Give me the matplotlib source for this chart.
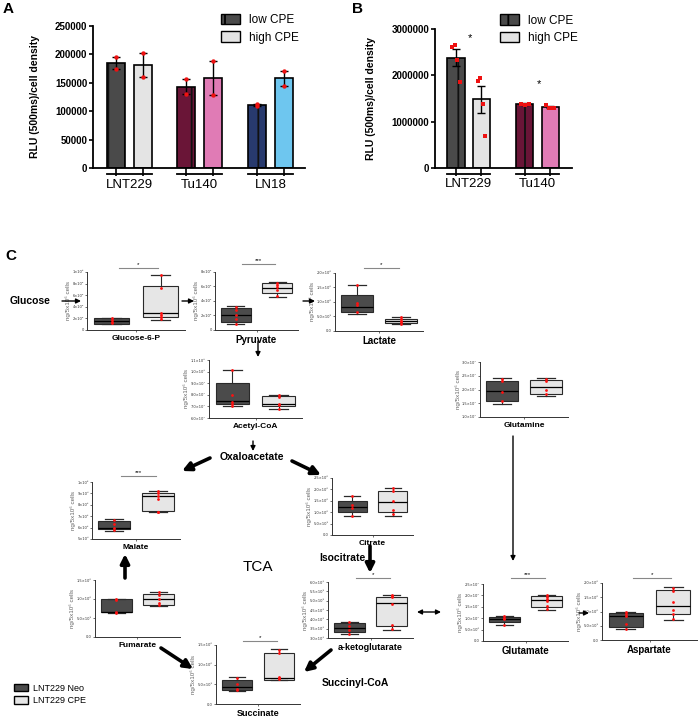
import numpy as np
import matplotlib
matplotlib.use('Agg')
import matplotlib.pyplot as plt
from matplotlib.patches import Patch

plt.rcParams['font.family'] = ['Liberation Sans', 'DejaVu Sans']
plt.rcParams['hatch.linewidth'] = 1.3

W, H = 700, 718

# ---- panel A data ----
a_groups = ['LNT229', 'Tu140', 'LN18']
a_low = [185000, 143000, 111000]
a_high = [181000, 158000, 158000]
a_low_err = [10000, 13500, 1000]
a_high_err = [21000, 30000, 13000]
a_low_pts = [[195000, 175000], [157000, 130000], [110000, 112000]]
a_high_pts = [[202000, 160000], [188000, 128000], [171000, 145000]]
a_low_colors = ['#4a4a4a', '#6a1537', '#283a6e']
a_high_colors = ['#e4e4e4', '#e07bb5', '#6ec6ef']

# ---- panel B data ----
b_groups = ['LNT229', 'Tu140']
b_low = [2380000, 1380000]
b_high = [1480000, 1310000]
b_low_err = [180000, 15000]
b_high_err = [290000, 20000]
b_low_pts = [[2620000, 2660000, 2340000, 1860000], [1380000, 1370000, 1380000]]
b_high_pts = [[1880000, 1950000, 1380000, 680000], [1350000, 1300000, 1290000, 1300000]]
b_low_colors = ['#4a4a4a', '#6a1537']
b_high_colors = ['#e4e4e4', '#e07bb5']
b_sig = ['*', '*']

# ---- panel C data: box stats are [whisker low, q1, median, q3, whisker high] ----
metabolites = ['Glucose-6-P', 'Pyruvate', 'Lactate', 'Acetyl-CoA', 'Glutamine', 'Malate',
               'Citrate', 'a-ketoglutarate', 'Glutamate', 'Aspartate', 'Fumarate', 'Succinate']
neo_boxes = [[1.0, 1.05, 1.6, 2.0, 2.1], [0.8, 1.16, 2.1, 3.0, 3.3], [0.58, 0.66, 0.84, 1.24, 1.59],
             [7.0, 7.18, 7.5, 9.03, 10.1], [1.47, 1.58, 1.95, 2.31, 2.42], [5.73, 5.84, 6.0, 6.57, 6.77],
             [0.84, 1.03, 1.25, 1.51, 1.72], [3.2, 3.3, 3.55, 3.8, 3.85], [0.7, 0.84, 0.95, 1.06, 1.1],
             [0.4, 0.47, 0.85, 0.96, 1.0], [0.64, 0.65, 0.67, 1.0, 1.0], [0.33, 0.36, 0.42, 0.61, 0.69]]
cpe_boxes = [[1.7, 2.2, 3.0, 7.6, 9.5], [4.6, 5.1, 5.8, 6.5, 6.6], [0.23, 0.26, 0.33, 0.43, 0.47],
             [6.76, 7.0, 7.2, 7.9, 8.0], [1.76, 1.84, 2.09, 2.35, 2.42], [7.35, 7.44, 8.75, 9.04, 9.2],
             [0.85, 1.0, 1.45, 1.95, 2.05], [3.45, 3.66, 4.9, 5.2, 5.3], [1.38, 1.5, 1.8, 1.97, 2.03],
             [0.7, 0.9, 1.2, 1.74, 1.85], [0.82, 0.84, 1.0, 1.12, 1.18], [0.6, 0.61, 0.67, 1.3, 1.4]]
neo_points = [[2.0, 1.8, 1.3, 1.2], [3.2, 2.8, 2.0, 1.5, 0.8], [1.59, 0.97, 0.9, 0.66],
              [10.1, 8.0, 7.4, 7.2, 7.0], [2.4, 2.3, 1.9, 1.6], [6.7, 6.3, 6.0, 5.8],
              [1.7, 1.3, 1.2, 0.85], [3.85, 3.65, 3.45, 3.2], [1.1, 1.0, 0.95, 0.7],
              [1.0, 0.92, 0.85, 0.55, 0.4], [1.0, 0.98, 0.67, 0.64], [0.67, 0.52, 0.38, 0.36]]
cpe_points = [[9.4, 7.2, 3.0, 2.6, 2.2, 1.9], [6.5, 6.2, 5.9, 5.5, 4.7], [0.47, 0.4, 0.33, 0.3, 0.24],
              [8.0, 7.8, 7.2, 7.1, 6.8], [2.38, 2.32, 2.0, 1.85], [9.2, 9.0, 8.8, 8.5, 7.4, 7.35],
              [2.05, 1.95, 1.5, 1.1, 0.9], [5.3, 5.25, 5.2, 4.8, 3.7, 3.5], [2.02, 1.95, 1.85, 1.75, 1.55, 1.4],
              [1.82, 1.72, 1.33, 1.05, 0.9, 0.72], [1.18, 1.1, 1.0, 0.9, 0.85], [1.38, 1.3, 0.68, 0.65, 0.63]]
y_ticks = [[0, 2, 4, 6, 8, 10], [0, 2, 4, 6, 8], [0, 0.5, 1.0, 1.5, 2.0], [6, 7, 8, 9, 10, 11],
           [1.0, 1.5, 2.0, 2.5, 3.0], [5, 6, 7, 8, 9, 10], [0, 0.5, 1.0, 1.5, 2.0, 2.5],
           [3.0, 3.5, 4.0, 4.5, 5.0, 5.5, 6.0], [0, 0.5, 1.0, 1.5, 2.0, 2.5], [0, 0.5, 1.0, 1.5, 2.0],
           [0, 0.5, 1.0, 1.5], [0, 0.5, 1.0, 1.5]]
y_ticklabels = [['0', '2×10⁴', '4×10⁴', '6×10⁴', '8×10⁴', '1×10⁵'],
                ['0', '2×10⁴', '4×10⁴', '6×10⁴', '8×10⁴'],
                ['0.0', '5.0×10⁵', '1.0×10⁶', '1.5×10⁶', '2.0×10⁶'],
                ['6.0×10⁷', '7.0×10⁷', '8.0×10⁷', '9.0×10⁷', '1.0×10⁸', '1.1×10⁸'],
                ['1.0×10⁷', '1.5×10⁷', '2.0×10⁷', '2.5×10⁷', '3.0×10⁷'],
                ['5×10⁵', '6×10⁵', '7×10⁵', '8×10⁵', '9×10⁵', '1×10⁶'],
                ['0.0', '5.0×10⁵', '1.0×10⁶', '1.5×10⁶', '2.0×10⁶', '2.5×10⁶'],
                ['3.0×10⁵', '3.5×10⁵', '4.0×10⁵', '4.5×10⁵', '5.0×10⁵', '5.5×10⁵', '6.0×10⁵'],
                ['0.0', '5.0×10⁶', '1.0×10⁷', '1.5×10⁷', '2.0×10⁷', '2.5×10⁷'],
                ['0.0', '5.0×10⁵', '1.0×10⁶', '1.5×10⁶', '2.0×10⁶'],
                ['0.0', '5.0×10⁵', '1.0×10⁶', '1.5×10⁶'],
                ['0.0', '5.0×10⁵', '1.0×10⁶', '1.5×10⁶']]
sig_marks = ['*', '***', '*', '', '', '***', '', '*', '***', '*', '', '*']

# ---- layout (pixels: left, right, top, bottom) ----
c_axes_px = [(87, 185, 272, 330), (215, 298, 272, 330), (335, 423, 273, 331), (209, 302, 360, 418),
             (480, 568, 362, 417), (92, 180, 482, 539), (332, 413, 478, 535), (328, 413, 582, 638),
             (483, 568, 584, 641), (602, 697, 583, 640), (95, 180, 580, 637), (216, 300, 645, 704)]
sig_line_px = [268, 264, 268, 0, 0, 476, 0, 578, 578, 578, 0, 641]
label_sizes = [6, 7, 7, 6, 6, 6, 6, 6.5, 7, 7, 6, 6.5]


def px_axes(x0, x1, y0, y1):
    return fig.add_axes([x0 / W, 1 - y1 / H, (x1 - x0) / W, (y1 - y0) / H])


fig = plt.figure(figsize=(7, 7.18), dpi=100)


def bar_panel(ax, centers, low, high, low_err, high_err, low_pts, high_pts, low_c, high_c, groups,
              ymax, yticks, marker):
    centers = np.array(centers)
    xl, xh = centers - 0.5, centers + 0.5
    ax.bar(xl, low, width=0.68, color=low_c, edgecolor='none', zorder=2)
    ax.bar(xl, low, width=0.68, fill=False, edgecolor='#111111', hatch='|', linewidth=0, zorder=2)
    ax.bar(xl, low, width=0.68, fill=False, edgecolor='black', linewidth=1.2, zorder=2)
    ax.bar(xh, high, width=0.68, color=high_c, edgecolor='black', linewidth=1.2, zorder=2)
    ax.errorbar(xl, low, yerr=low_err, fmt='none', ecolor='black', capsize=3, elinewidth=1, zorder=3)
    ax.errorbar(xh, high, yerr=high_err, fmt='none', ecolor='black', capsize=3, elinewidth=1, zorder=3)
    for x, pts in list(zip(xl, low_pts)) + list(zip(xh, high_pts)):
        offs = np.linspace(-0.15, 0.15, len(pts)) if len(pts) > 2 else np.zeros(len(pts))
        ax.scatter(x + offs, pts, s=10, color='#ee1111', marker=marker, zorder=4, linewidths=0)
    ax.set_ylim(0, ymax)
    ax.set_yticks(yticks)
    ax.set_yticklabels([str(t) for t in yticks], fontsize=7, fontweight='bold')
    ax.set_xticks(list(xl) + list(xh))
    ax.set_xticklabels([])
    ax.tick_params(axis='x', length=6, width=1.2)
    ax.tick_params(axis='y', length=3, width=1.2, pad=1)
    for s in ['top', 'right']:
        ax.spines[s].set_visible(False)
    for s in ['left', 'bottom']:
        ax.spines[s].set_linewidth(1.3)
    tr = ax.get_xaxis_transform()
    for c, g in zip(centers, groups):
        ax.plot([c - 0.85, c + 0.85], [-0.045, -0.045], color='black', lw=1.3, transform=tr, clip_on=False)
        ax.text(c, -0.075, g, transform=tr, ha='center', va='top', fontsize=9.5)
    ax.set_ylabel('RLU (500ms)/cell density', fontsize=7.5, fontweight='bold')
    handles = [Patch(facecolor='#4a4a4a', edgecolor='black', hatch='|', label='low CPE'),
               Patch(facecolor='#e4e4e4', edgecolor='black', label='high CPE')]
    return handles


# Panel A
axA = px_axes(93, 305, 26, 168)
hA = bar_panel(axA, [0.5, 3.15, 5.83], a_low, a_high, a_low_err, a_high_err, a_low_pts, a_high_pts,
               a_low_colors, a_high_colors, a_groups, 250000, [0, 50000, 100000, 150000, 200000, 250000], 'o')
axA.set_xlim(-0.87, 7.13)
axA.yaxis.set_label_coords(-0.25, 0.5)
axA.legend(handles=hA, loc='upper left', bbox_to_anchor=(0.58, 1.12), frameon=False, fontsize=8.5,
           handlelength=1.6, handleheight=1.0, labelspacing=0.45, borderaxespad=0)

# Panel B
axB = px_axes(435, 572, 29, 168)
hB = bar_panel(axB, [0.5, 3.2], b_low, b_high, b_low_err, b_high_err, b_low_pts, b_high_pts,
               b_low_colors, b_high_colors, b_groups, 3000000, [0, 1000000, 2000000, 3000000], 's')
axB.set_xlim(-0.82, 4.55)
axB.yaxis.set_label_coords(-0.43, 0.5)
axB.legend(handles=hB, loc='upper left', bbox_to_anchor=(0.44, 1.14), frameon=False, fontsize=8.5,
           handlelength=1.6, handleheight=1.0, labelspacing=0.45, borderaxespad=0)
for c, m, top in zip([0.5, 3.2], b_sig, [2700000, 1700000]):
    axB.text(c + 0.05, top, m, ha='center', va='bottom', fontsize=8)

# Panel C box plots
for i, name in enumerate(metabolites):
    ax = px_axes(*c_axes_px[i])
    stats = []
    for b in (neo_boxes[i], cpe_boxes[i]):
        stats.append(dict(whislo=b[0], q1=b[1], med=b[2], q3=b[3], whishi=b[4], fliers=[]))
    bp = ax.bxp(stats, positions=[1, 2], widths=0.72, patch_artist=True, showfliers=False,
                boxprops=dict(edgecolor='#2a2a2a', linewidth=0.8),
                medianprops=dict(color='black', linewidth=0.9),
                whiskerprops=dict(color='#2a2a2a', linewidth=0.8),
                capprops=dict(color='#2a2a2a', linewidth=0.9), capwidths=0.4)
    bp['boxes'][0].set_facecolor('#4b4b4b')
    bp['boxes'][1].set_facecolor('#e6e6e6')
    ax.scatter(np.full(len(neo_points[i]), 1.0), neo_points[i], s=4, color='#ff1010', zorder=5, linewidths=0)
    ax.scatter(np.full(len(cpe_points[i]), 2.0), cpe_points[i], s=4, color='#ff1010', zorder=5, linewidths=0)
    ax.set_xlim(0.5, 2.5)
    ax.set_ylim(y_ticks[i][0], y_ticks[i][-1])
    ax.set_yticks(y_ticks[i])
    ax.set_yticklabels(y_ticklabels[i], fontsize=2.6, color='#555555', family=['DejaVu Sans'])
    ax.set_xticks([1.5])
    ax.set_xticklabels([])
    ax.tick_params(length=1.5, width=0.5, pad=0.8, colors='#333333')
    for s in ['top', 'right']:
        ax.spines[s].set_visible(False)
    for s in ['left', 'bottom']:
        ax.spines[s].set_linewidth(0.7)
        ax.spines[s].set_color('#333333')
    ax.set_xlabel(name, fontsize=label_sizes[i], fontweight='bold', labelpad=1)
    ax.set_ylabel('ng/5x10⁶ cells', fontsize=4.5, color='#666666', labelpad=1)
    if sig_marks[i]:
        x0, x1, y0, y1 = c_axes_px[i]
        yl = 1 + (y0 - sig_line_px[i]) / (y1 - y0)
        ax.plot([1.15, 1.95], [yl, yl], color='#888888', lw=0.8, transform=ax.get_xaxis_transform(), clip_on=False)
        ax.text(1.55, yl + 0.01, sig_marks[i], ha='center', va='bottom', fontsize=4.5,
                transform=ax.get_xaxis_transform())

# overlay for arrows and pathway text
ov = fig.add_axes([0, 0, 1, 1])
ov.set_xlim(0, W)
ov.set_ylim(H, 0)
ov.axis('off')
ov.patch.set_alpha(0)

thin = dict(arrowstyle='-|>', lw=1.0, color='black', mutation_scale=7, shrinkA=0, shrinkB=0)
thick = dict(arrowstyle='-|>', lw=2.6, color='black', mutation_scale=13, shrinkA=0, shrinkB=0)
for a, b in [((62, 301), (81, 301)), ((182, 301), (194, 301)), ((303, 301), (315, 301)),
             ((258, 341), (258, 357)), ((253, 441), (253, 451)), ((513, 436), (513, 561)),
             ((579, 613), (589, 613))]:
    ov.annotate('', xy=b, xytext=a, arrowprops=thin)
ov.annotate('', xy=(441, 612), xytext=(417, 612),
            arrowprops=dict(arrowstyle='<|-|>', lw=1.0, color='black', mutation_scale=7, shrinkA=0, shrinkB=0))
for a, b in [((210, 458), (182, 471)), ((292, 461), (321, 475)), ((370, 546), (370, 573)),
             ((331, 650), (304, 672)), ((161, 648), (193, 669)), ((125, 578), (125, 554))]:
    ov.annotate('', xy=b, xytext=a, arrowprops=thick)

ov.text(10, 301, 'Glucose', fontsize=7.5, fontweight='bold', va='center', ha='left')
ov.text(252, 457, 'Oxaloacetate', fontsize=7.5, fontweight='bold', va='center', ha='center')
ov.text(365, 558, 'Isocitrate', fontsize=7.5, fontweight='bold', va='center', ha='right')
ov.text(322, 683, 'Succinyl-CoA', fontsize=7.5, fontweight='bold', va='center', ha='left')
ov.text(258, 567, 'TCA', fontsize=11, va='center', ha='center')
ov.text(3, 9, 'A', fontsize=11, fontweight='bold', va='center')
ov.text(352, 9, 'B', fontsize=11, fontweight='bold', va='center')
ov.text(5, 256, 'C', fontsize=11, fontweight='bold', va='center')

c_handles = [Patch(facecolor='#4b4b4b', edgecolor='black', label='LNT229 Neo'),
             Patch(facecolor='#e6e6e6', edgecolor='black', label='LNT229 CPE')]
ov.legend(handles=c_handles, loc='upper left', bbox_to_anchor=(10 / W, 1 - 680 / H), frameon=False,
          fontsize=6.5, handlelength=1.6, handleheight=0.9, labelspacing=0.4, borderaxespad=0,
          handletextpad=0.6)

fig.savefig('out.png', dpi=100)
